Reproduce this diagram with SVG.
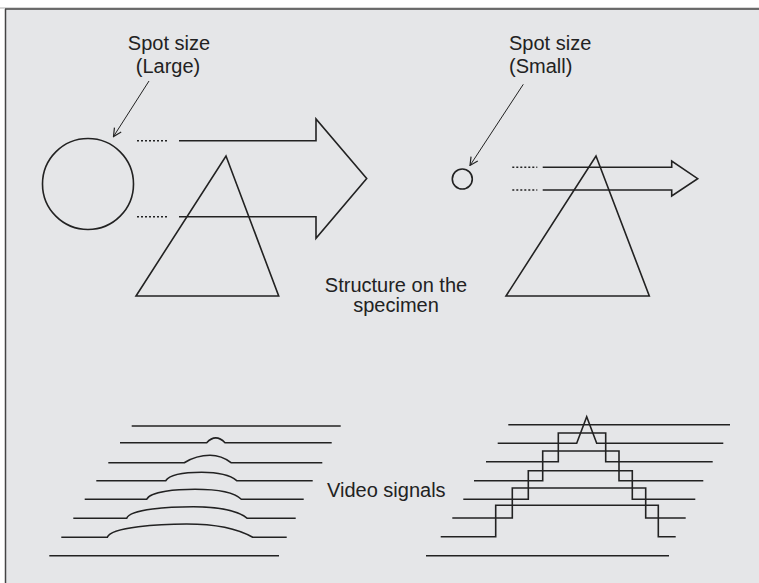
<svg xmlns="http://www.w3.org/2000/svg" width="759" height="583" viewBox="0 0 759 583">
<defs>
<marker id="ah" markerWidth="10" markerHeight="10" refX="9" refY="5" orient="auto" markerUnits="userSpaceOnUse">
<path d="M1,1 L9,5 L1,9" fill="none" stroke="#222" stroke-width="1.2"/>
</marker>
</defs>
<style>
.ln{fill:none;stroke:#222;stroke-width:1.6;stroke-linejoin:miter}
.dot{fill:none;stroke:#222;stroke-width:1.4;stroke-dasharray:2 2}
.lead{fill:none;stroke:#222;stroke-width:1;marker-end:url(#ah)}
.t{font-family:"Liberation Sans",Arial,Helvetica,sans-serif;font-size:20px;fill:#222}
</style>
<rect x="0" y="0" width="759" height="583" fill="#ffffff"/>
<rect x="5" y="9" width="754" height="574" fill="#e5e6e8"/>
<line x1="0" y1="8" x2="759" y2="8" stroke="#b0b0b0" stroke-width="1"/>
<line x1="5" y1="9" x2="759" y2="9" stroke="#444" stroke-width="1.5"/>
<line x1="5.5" y1="9" x2="5.5" y2="583" stroke="#444" stroke-width="1.5"/>

<g id="large-spot">
<text class="t" x="169" y="50" text-anchor="middle">Spot size</text>
<text class="t" x="168" y="73" text-anchor="middle">(Large)</text>
<circle class="ln" cx="88" cy="184" r="45.5"/>
</g>
<g id="large-scan">
<path class="ln" d="M179,140.7 L316,140.7 L316,119 L366.7,178.5 L316,238.3 L316,216.7 L179,216.7"/>
<line class="dot" x1="137" y1="140.7" x2="167" y2="140.7"/>
<line class="dot" x1="137" y1="216.7" x2="167" y2="216.7"/>
</g>
<g id="large-structure">
<path class="ln" d="M226,156 L278.7,296 L136,296 Z"/>
</g>

<g id="small-spot">
<text class="t" x="509" y="50">Spot size</text>
<text class="t" x="509" y="73">(Small)</text>
<circle class="ln" cx="462.3" cy="179" r="10"/>
</g>
<g id="small-scan">
<path class="ln" d="M542.7,167.3 L671.7,167.3 L671.7,161 L697.7,178.7 L671.7,196 L671.7,190 L542.7,190"/>
<line class="dot" x1="512.3" y1="167.3" x2="537.3" y2="167.3"/>
<line class="dot" x1="512.3" y1="190" x2="537.3" y2="190"/>
</g>
<g id="small-structure">
<path class="ln" d="M596,156 L649.3,296 L506,296 Z"/>
</g>

<g id="structure-label">
<text class="t" x="396" y="292" text-anchor="middle">Structure on the</text>
<text class="t" x="396" y="312" text-anchor="middle">specimen</text>
</g>

<g id="connectors">
<line class="lead" x1="149" y1="81" x2="113.5" y2="136.5"/>
<line class="lead" x1="523.3" y1="84.3" x2="470" y2="165.5"/>
</g>

<g id="large-signals">
<path class="ln" d="M131.7,426 L340.7,426"/>
<path class="ln" d="M120,442.7 L206.7,442.7 Q215.7,433 225,442.7 L331.7,442.7"/>
<path class="ln" d="M108.3,462.7 L184.3,462.7 C192,458 200,455.3 210,455.3 C218,455.3 225,458 231,462.7 L322.3,462.7"/>
<path class="ln" d="M96.3,480.7 L165.7,480.7 C170,474 188,472.3 201.7,472.3 C218,472.3 230,475 236.7,480.7 L312.7,480.7"/>
<path class="ln" d="M84.7,499.3 L146.7,499.3 C150,491 178,489.3 195,489.3 C220,489.3 235,493 241.3,499.3 L303.7,499.3"/>
<path class="ln" d="M73.3,518.3 L126.7,518.3 C130,509 170,506.7 193.3,506.7 C220,506.7 238,511 247.3,518.3 L295.7,518.3"/>
<path class="ln" d="M61.3,537.3 L107.3,537.3 C111,527 160,524 186.7,524 C218,524 240,530 252.7,537.3 L286.7,537.3"/>
<path class="ln" d="M49.3,555.7 L279,555.7"/>
</g>

<g id="video-label">
<text class="t" x="327" y="497">Video signals</text>
</g>

<g id="small-signals">
<path class="ln" d="M508.3,424.7 L730,424.7"/>
<path class="ln" d="M497.7,443.3 L576.7,443.3 L586.7,416.7 L596.7,443.3 L723.3,443.3"/>
<path class="ln" d="M486,461.7 L558.3,461.7 L558.3,433 L605.7,433 L605.7,461.7 L712.7,461.7"/>
<path class="ln" d="M474,480.7 L542.7,480.7 L542.7,451 L619,451 L619,480.7 L703.3,480.7"/>
<path class="ln" d="M463.3,499.3 L528.3,499.3 L528.3,470.7 L632.3,470.7 L632.3,499.3 L695.3,499.3"/>
<path class="ln" d="M452.3,518 L512.3,518 L512.3,488 L645.7,488 L645.7,518 L685.7,518"/>
<path class="ln" d="M440.7,536.7 L495.7,536.7 L495.7,505.3 L658.3,505.3 L658.3,536.7 L675.7,536.7"/>
<path class="ln" d="M426,555.7 L669,555.7"/>
</g>
</svg>
